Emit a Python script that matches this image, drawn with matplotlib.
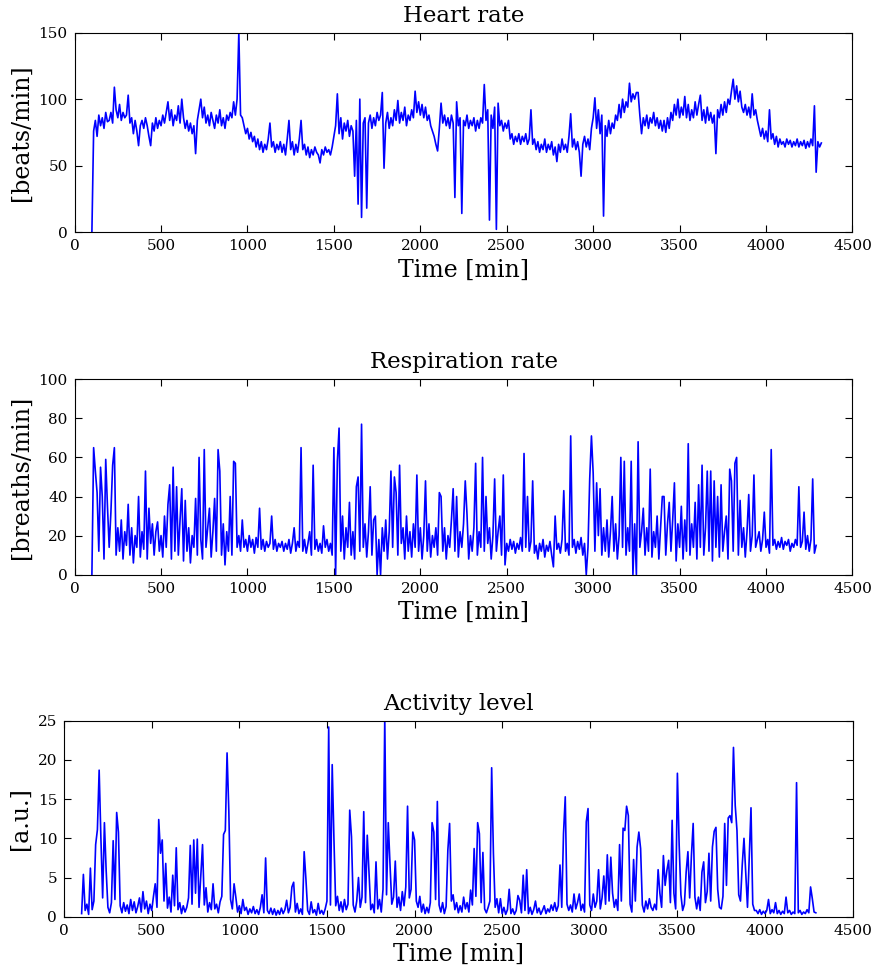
import numpy as np
import matplotlib
matplotlib.use("Agg")
import matplotlib.pyplot as plt

# sampling: one reading every 10 min, starting at 100 min
t_start = 100
t_step = 10

heart_rate = [
    0, 76, 84, 72, 88, 80, 86, 78, 90, 83,
    84, 90, 82, 109, 92, 86, 96, 84, 90, 86,
    88, 103, 82, 86, 74, 84, 76, 65, 80, 84,
    78, 86, 80, 72, 65, 82, 76, 86, 78, 84,
    80, 88, 82, 90, 98, 84, 92, 80, 88, 84,
    95, 82, 100, 86, 78, 84, 76, 82, 74, 80,
    59, 84, 92, 100, 86, 94, 82, 88, 80, 90,
    84, 78, 88, 82, 92, 80, 86, 78, 88, 84,
    90, 86, 98, 88, 100, 150, 88, 86, 80, 74,
    78, 70, 75, 68, 72, 64, 70, 62, 68, 60,
    66, 62, 70, 82, 64, 68, 60, 66, 62, 68,
    60, 66, 58, 70, 84, 62, 68, 58, 66, 60,
    70, 84, 62, 66, 58, 64, 56, 62, 58, 64,
    60, 58, 52, 62, 58, 64, 60, 62, 58, 64,
    72, 80, 104, 74, 86, 70, 82, 76, 84, 72,
    80, 76, 42, 84, 21, 100, 11, 82, 86, 18,
    82, 88, 78, 86, 80, 90, 84, 88, 105, 48,
    82, 90, 78, 86, 80, 92, 84, 99, 82, 90,
    84, 94, 80, 88, 84, 92, 86, 106, 90, 98,
    88, 96, 86, 94, 84, 88, 80, 76, 72, 66,
    61, 78, 97, 82, 88, 80, 86, 78, 88, 82,
    26, 98, 80, 86, 14, 84, 80, 88, 78, 84,
    80, 86, 76, 84, 78, 86, 82, 111, 84, 92,
    9, 88, 78, 94, 2, 97, 80, 84, 76, 82,
    78, 84, 70, 74, 66, 72, 68, 74, 66, 72,
    68, 74, 66, 70, 92, 66, 70, 62, 68, 60,
    66, 62, 70, 60, 66, 62, 68, 58, 64, 53,
    66, 60, 70, 62, 66, 60, 72, 89, 64, 70,
    62, 68, 60, 42, 66, 72, 64, 70, 62, 78,
    86, 101, 78, 92, 74, 88, 12, 80, 72, 84,
    74, 82, 78, 88, 84, 96, 86, 100, 90, 98,
    94, 112, 98, 104, 100, 105, 105, 88, 74, 86,
    80, 88, 78, 86, 82, 90, 80, 86, 78, 84,
    76, 84, 75, 86, 78, 90, 84, 96, 88, 100,
    86, 94, 88, 102, 86, 96, 84, 92, 86, 98,
    88, 96, 103, 84, 92, 82, 94, 84, 90, 82,
    88, 59, 92, 86, 96, 88, 98, 90, 100, 96,
    106, 115, 100, 110, 98, 106, 94, 90, 96, 88,
    94, 86, 104, 88, 92, 84, 78, 72, 78, 70,
    76, 68, 92, 70, 74, 66, 72, 64, 70, 66,
    68, 64, 70, 66, 69, 64, 68, 65, 70, 64,
    68, 65, 69, 63, 68, 64, 70, 65, 95, 45,
    68, 64, 67,
]

respiration = [
    0, 65, 53, 42, 12, 55, 40, 8, 59, 35,
    14, 32, 56, 65, 10, 24, 12, 28, 8, 22,
    15, 36, 10, 24, 6, 20, 14, 40, 9, 22,
    13, 53, 8, 34, 16, 26, 10, 22, 27, 12,
    20, 9, 30, 14, 36, 46, 8, 55, 12, 45,
    10, 28, 44, 7, 38, 12, 24, 6, 20, 14,
    39, 10, 60, 18, 8, 64, 14, 24, 34, 9,
    22, 39, 12, 64, 53, 10, 26, 5, 22, 12,
    40, 10, 58, 57, 14, 20, 12, 28, 14, 18,
    12, 20, 14, 18, 11, 19, 14, 34, 13, 18,
    12, 17, 14, 16, 30, 13, 18, 12, 16, 14,
    17, 12, 16, 13, 18, 11, 16, 24, 12, 17,
    14, 65, 12, 18, 11, 16, 22, 10, 56, 13,
    18, 12, 16, 11, 25, 14, 18, 12, 16, 10,
    65, 0, 58, 75, 12, 30, 8, 24, 14, 37,
    10, 22, 8, 45, 50, 12, 77, 14, 26, 9,
    22, 45, 10, 28, 30, 0, 18, 0, 24, 12,
    28, 8, 22, 53, 14, 50, 42, 10, 56, 16,
    24, 8, 30, 12, 22, 9, 26, 14, 51, 12,
    24, 8, 20, 48, 12, 26, 9, 20, 14, 24,
    10, 42, 40, 12, 24, 8, 20, 14, 28, 44,
    12, 40, 9, 22, 14, 26, 48, 31, 8, 20,
    12, 24, 57, 10, 22, 14, 60, 12, 40, 16,
    24, 8, 20, 49, 12, 22, 30, 10, 51, 5,
    16, 12, 18, 13, 17, 11, 16, 13, 19, 12,
    62, 14, 40, 12, 17, 48, 11, 15, 8, 16,
    12, 18, 9, 15, 12, 17, 10, 4, 30, 13,
    16, 11, 18, 43, 12, 16, 10, 71, 14, 18,
    11, 17, 13, 19, 10, 16, 0, 14, 49, 71,
    52, 12, 47, 20, 44, 10, 24, 12, 28, 9,
    22, 40, 12, 26, 8, 20, 60, 14, 58, 10,
    24, 12, 58, 0, 26, 0, 68, 14, 22, 34,
    10, 24, 12, 54, 9, 22, 14, 30, 8, 24,
    40, 40, 10, 26, 37, 12, 28, 47, 7, 26,
    14, 35, 8, 28, 12, 67, 10, 26, 14, 37,
    8, 46, 14, 56, 10, 24, 53, 12, 53, 7,
    48, 14, 40, 9, 46, 12, 22, 30, 8, 54,
    48, 12, 57, 60, 10, 38, 14, 24, 9, 22,
    41, 12, 20, 51, 14, 18, 22, 12, 18, 32,
    14, 18, 11, 64, 15, 18, 13, 17, 14, 19,
    13, 17, 15, 18, 12, 16, 14, 18, 15, 45,
    14, 17, 32, 13, 20, 12, 18, 49, 11, 15,
]

activity = [
    0.4, 5.4, 0.8, 1.6, 0.3, 6.2, 0.9, 2.0, 9.2, 11.1,
    18.7, 10.0, 2.4, 12.0, 5.9, 1.2, 0.5, 1.8, 9.7, 2.2,
    13.3, 10.8, 1.4, 0.5, 1.8, 0.7, 1.5, 0.4, 2.2, 0.8,
    1.9, 0.5, 1.3, 2.4, 0.6, 3.2, 1.0, 2.0, 0.4, 1.6,
    0.8, 2.6, 4.2, 1.2, 12.4, 8.1, 9.8, 2.0, 6.8, 1.1,
    2.5, 0.6, 5.3, 1.4, 8.8, 0.9, 1.8, 0.4, 1.4, 0.6,
    1.2, 2.4, 9.1, 1.6, 9.8, 3.0, 9.9, 1.2, 5.3, 9.2,
    1.5, 3.7, 0.6, 1.8, 0.9, 4.2, 1.0, 1.6, 0.5, 1.9,
    2.6, 10.5, 11.0, 20.9, 13.5, 2.2, 1.0, 4.2, 2.5, 0.6,
    1.4, 0.4, 2.2, 0.8, 1.2, 0.3, 1.0, 0.5, 1.3, 0.4,
    0.9, 0.3, 1.2, 2.8, 0.5, 7.5, 0.8, 0.4, 1.1, 0.3,
    1.0, 0.2, 0.8, 0.3, 1.1, 0.4, 0.9, 2.1, 0.5, 1.2,
    3.8, 4.4, 0.6, 1.7, 0.4, 1.0, 0.3, 8.3, 4.8, 0.8,
    0.3, 1.9, 0.5, 0.9, 0.2, 1.7, 0.4, 0.8, 0.3, 1.0,
    2.0, 24.2, 1.5, 19.4, 9.8, 1.4, 2.6, 0.8, 1.9, 0.6,
    2.2, 0.9, 1.6, 13.6, 10.2, 1.5, 0.6, 2.0, 5.0, 1.2,
    2.5, 13.4, 1.8, 10.4, 5.7, 0.9, 1.6, 0.5, 7.0, 1.0,
    2.2, 0.6, 3.5, 25.5, 2.8, 12.0, 6.6, 1.6, 2.5, 7.1,
    1.2, 2.5, 0.8, 3.2, 1.4, 3.8, 14.1, 2.4, 3.5, 10.8,
    9.8, 2.0, 1.2, 2.6, 0.6, 1.6, 0.4, 1.2, 0.5, 1.8,
    12.0, 10.8, 2.2, 14.7, 1.5, 0.6, 1.8, 0.4, 1.3, 8.5,
    11.9, 2.0, 2.8, 0.9, 1.8, 0.5, 1.4, 0.6, 2.5, 1.0,
    1.8, 0.6, 3.4, 1.5, 8.7, 2.6, 12.0, 10.6, 1.8, 8.2,
    1.0, 0.5, 1.2, 2.0, 19.0, 8.1, 1.2, 2.3, 0.5, 2.3,
    0.4, 1.2, 0.3, 0.9, 3.5, 0.4, 1.0, 0.3, 0.8, 2.7,
    2.1, 0.5, 5.3, 0.8, 6.0, 0.4, 1.2, 0.3, 0.9, 2.0,
    0.5, 1.1, 0.3, 0.8, 1.4, 0.4, 1.0, 0.6, 1.5, 0.8,
    1.8, 0.7, 1.4, 6.6, 1.2, 10.6, 15.3, 1.6, 0.8, 1.5,
    0.6, 2.9, 1.0, 1.8, 2.9, 0.8, 1.6, 0.6, 12.1, 13.8,
    1.5, 0.8, 2.9, 1.2, 2.0, 6.0, 1.0, 2.4, 5.2, 1.6,
    7.9, 2.0, 7.6, 3.0, 1.2, 2.2, 0.8, 9.2, 2.0, 11.3,
    11.0, 14.1, 12.9, 1.6, 0.6, 7.3, 2.0, 8.9, 10.8, 8.7,
    1.5, 0.6, 2.0, 1.0, 2.3, 1.2, 0.8, 1.6, 0.9, 6.0,
    3.0, 1.2, 7.8, 4.0, 5.9, 7.2, 1.8, 12.3, 3.0, 1.0,
    18.3, 9.2, 2.8, 0.8, 1.6, 5.7, 8.3, 2.4, 7.8, 11.9,
    2.5, 1.0, 2.5, 0.8, 5.7, 7.0, 1.8, 3.2, 8.1, 2.0,
    8.9, 10.9, 11.4, 3.5, 1.2, 1.0, 2.6, 11.9, 4.0, 12.6,
    12.9, 12.0, 21.6, 14.2, 11.0, 2.8, 2.0, 6.6, 10.0, 5.5,
    1.2, 7.5, 13.9, 1.6, 0.8, 0.8, 0.4, 0.9, 0.3, 0.7,
    0.4, 0.8, 2.2, 0.4, 0.9, 0.5, 1.8, 0.4, 0.8, 0.3,
    0.7, 0.4, 2.5, 0.5, 0.8, 0.3, 0.6, 0.4, 17.1, 0.5,
    0.8, 0.3, 0.6, 0.4, 0.9, 0.5, 3.8, 2.3, 0.6, 0.5,
]

titles = ["Heart rate", "Respiration rate", "Activity level"]
ylabels = ["[beats/min]", "[breaths/min]", "[a.u.]"]
ylims = [(0, 150), (0, 100), (0, 25)]
yticks = [[0, 50, 100, 150], [0, 20, 40, 60, 80, 100], [0, 5, 10, 15, 20, 25]]
xticks = list(range(0, 4501, 500))

plt.rcParams['font.family'] = ['DejaVu Serif']

fig = plt.figure(figsize=(8.83, 9.74), dpi=100)
# axes boxes in figure fractions
boxes = [
    [0.0845, 0.7618, 0.8809, 0.2046],
    [0.0845, 0.4100, 0.8809, 0.2006],
    [0.0726, 0.0588, 0.8930, 0.2012],
]

series = [heart_rate, respiration, activity]
for i in range(3):
    ax = fig.add_axes(boxes[i])
    y = np.array(series[i], dtype=float)
    t = t_start + t_step * np.arange(len(y))
    ax.plot(t, y, color=(0, 0, 1), lw=1.2)
    ax.set_xlim(0, 4500)
    ax.set_ylim(*ylims[i])
    ax.set_xticks(xticks)
    ax.set_yticks(yticks[i])
    ax.tick_params(direction='in', top=True, right=True, length=5,
                   width=0.8, labelsize=11, pad=5)
    ax.set_title(titles[i], fontsize=16.5, pad=8)
    ax.set_xlabel("Time [min]", fontsize=17, labelpad=4)
    ax.set_ylabel(ylabels[i], fontsize=17, labelpad=4)
    for s in ax.spines.values():
        s.set_linewidth(0.8)

fig.savefig("out.png", dpi=100)
